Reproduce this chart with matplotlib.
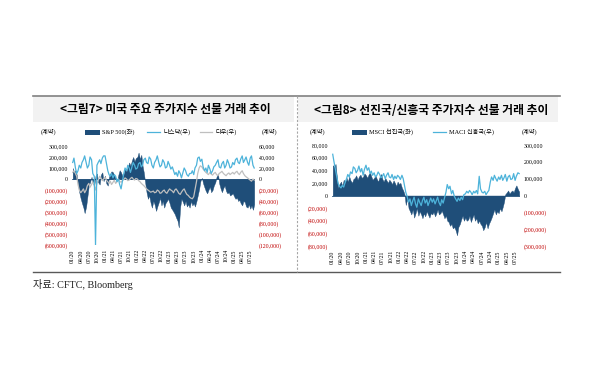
import matplotlib
matplotlib.use('Agg')
import matplotlib.pyplot as plt
from matplotlib.patches import Rectangle
from matplotlib.lines import Line2D
import pandas as pd
import numpy as np

# ---------------- data (thousands of contracts, semi-monthly) ----------------
dates = pd.date_range('2020-01-01', periods=136, freq='SMS')

sp500 = [100, 60, 80, 40, -50, -120, -180, -220, -260, -310, -250, -160, -60, -30, 20, -40, -60, 30, 50, -30, -50, 40, 60, -20,
         30, -40, -60, 20, 50, 70, 60, 30, 10, -20, 40, 80, 60, 30, 50, 90, 70, 110, 150, 120, 170, 200, 160, 190,
         200, 240, 180, 220, 120, 60, -40, -120, -180, -150, -220, -260, -200, -230, -290, -250, -210, -170, -240, -200, -260, -220, -200, -180,
         -220, -260, -280, -300, -320, -350, -380, -440, -250, -180, -210, -240, -200, -250, -230, -260, -200, -240, -220, -250, -200, -150, -90, -20,
         10, -40, -80, -110, -130, -100, -70, -120, -100, -60, -30, 20, 50, -40, -90, -120, -80, -60, -110, -130, -120, -150, -140, -130,
         -160, -180, -170, -200, -190, -220, -240, -200, -210, -250, -260, -230, -270, -240, -280, -230]

nasdaq = [30, 38, 20, 10, 15, 25, 20, 30, 35, 42, 30, 20, 25, 40, 35, 10, 5, -120, 25, 30, 35, 28, 38, 42,
          42, 30, 15, 8, 5, 10, 2, 8, 5, -5, 0, -10, -18, -5, 10, 20, 15, 25, 20, 12, 22, 30, 25, 18,
          20, 28, 30, 22, 25, 35, 38, 30, 28, 40, 36, 25, 20, 30, 35, 42, 30, 22, 25, 35, 30, 20, 22, 32,
          25, 18, 22, 15, 8, 12, 5, 15, 10, 2, 12, 20, 15, 8, 5, 10, 10, 15, 8, 20, 25, 38, 40, 32,
          36, 22, 15, 20, 12, 25, 18, 10, 15, 22, 25, 30, 35, 22, 20, 28, 32, 20, 25, 35, 28, 20, 22, 30,
          26, 35, 38, 30, 28, 36, 42, 30, 35, 40, 30, 25, 38, 42, 25, 20]

dow = [12, 15, 10, 5, -10, -20, -25, -22, -18, -25, -20, -12, -8, -15, -10, -5, -12, -20, -8, -2, 5, 2, -3, 0,
       3, -2, -5, -8, -4, -10, -6, -2, -8, -5, 0, -4, -6, -3, -1, 2, 0, -3, -2, 1, 3, 0, -2, 1,
       0, -3, -5, -8, -10, -12, -15, -18, -20, -22, -24, -23, -22, -25, -24, -20, -22, -26, -25, -22, -20, -24, -26, -22,
       -18, -20, -22, -25, -20, -18, -22, -26, -28, -24, -20, -18, -24, -28, -30, -33, -35, -36, -32, -20, -5, 10, 20, 24,
       22, 18, 15, 12, 10, 8, 12, 9, 7, 10, 12, 8, 6, 10, 12, 14, 10, 8, 6, 9, 11, 8, 10, 12,
       9, 12, 14, 10, 8, 12, 15, 10, 6, 4, 2, 0, -2, -4, 0, -2]

msci_dm = [48, 45, 50, 30, 12, 18, 22, 15, 25, 20, 28, 22, 30, 24, 20, 26, 28, 32, 25, 30, 33, 28, 30, 35,
           32, 28, 34, 36, 30, 25, 28, 32, 26, 22, 30, 34, 26, 22, 28, 24, 20, 25, 22, 18, 24, 20, 15, 22,
           18, 20, 12, 8, 2, -15, -5, -20, -25, -30, -22, -35, -28, -20, -32, -25, -30, -36, -28, -33, -25, -30, -35, -28,
           -30, -26, -33, -28, -22, -30, -28, -24, -30, -36, -32, -40, -42, -48, -45, -52, -50, -55, -63, -50, -45, -38, -32, -40,
           -35, -40, -38, -32, -42, -36, -30, -40, -36, -44, -40, -45, -48, -55, -50, -42, -52, -45, -40, -35, -28, -22, -30, -25,
           -28, -20, -25, -18, -10, 2, 5, 8, 3, 6, 8, 5, 12, 16, 10, 6]

msci_em = [245, 200, 150, 110, 70, 55, 45, 60, 50, 75, 100, 125, 110, 140, 130, 170, 160, 135, 150, 175, 140, 160, 120, 155,
           180, 150, 165, 130, 145, 120, 135, 110, 120, 140, 125, 105, 115, 130, 100, 120, 135, 110, 105, 125, 95, 115, 100, 120,
           110, 95, 120, 100, 60, 20, -10, -40, -20, -60, -30, -10, -50, -70, -20, -40, -60, -30, -10, -45, -25, -60, -35, -15,
           -40, -20, -50, -30, -10, -40, -60, -25, -45, -15, 20, 65, 40, 55, 10, 30, -5, -20, -35, -15, -30, -10, -25, 5,
           10, 25, 15, 30, 20, 5, 25, 15, 30, 10, 114, 40, 20, 15, 25, 5, 20, 30, 80, 110, 90, 120, 100, 85,
           110, 95, 120, 90, 105, 125, 85, 110, 120, 95, 100, 130, 90, 115, 135, 130]

tick_dates = pd.date_range('2020-01-01', '2025-07-01', freq='QS')
tick_labels = [d.strftime('%m/%y') for d in tick_dates]

title_left = '<그림7> 미국 주요 주가지수 선물 거래 추이'
title_right = '<그림8> 선진국/신흥국 주가지수 선물 거래 추이'
source = '자료: CFTC, Bloomberg'

# ---------------- style ----------------
DARK = '#1F4E79'
LIGHT = '#4DB3DA'
GRAY = '#BFBFBF'
RED = '#C00000'
SERIF = ['Liberation Serif', 'Noto Sans CJK KR']
SANS = ['Noto Sans CJK KR', 'DejaVu Sans']
TFS = 4.2

W, H = 600, 383
fig = plt.figure(figsize=(6, 3.83), dpi=100)
fig.patch.set_facecolor('white')

def fx(x): return x / W
def fy(y): return 1 - y / H

def axes_px(x0, y0, x1, y1):
    return fig.add_axes([fx(x0), fy(y1), (x1 - x0) / W, (y1 - y0) / H])

def fmt(v):
    v = int(round(v))
    return f'({-v:,})' if v < 0 else f'{v:,}'

def style_axis(ax, ticks, side):
    ax.set_yticks(ticks)
    labs = ax.set_yticklabels([fmt(t) for t in ticks], fontsize=TFS, family=SERIF)
    for t, l in zip(ticks, labs):
        l.set_color(RED if t < 0 else 'black')
    for s in ax.spines.values():
        s.set_visible(False)
    ax.tick_params(axis='both', length=0)
    ax.tick_params(axis='y', pad=3 if side == 'left' else 2.5)

def make_chart(x0, x1, y0, y1, bars, lines, lticks, rticks):
    ax = axes_px(x0, y0, x1, y1)
    ax.set_facecolor('none')
    vals = np.array(bars) * 1000
    ax.fill_between(dates, 0, vals, color=DARK, linewidth=0.3, edgecolor=DARK, interpolate=True)
    ax.axhline(0, color=DARK, lw=0.6)
    ax.set_ylim(lticks[0], lticks[-1])
    ax.set_xlim(pd.Timestamp('2019-12-24'), pd.Timestamp('2025-08-24'))
    style_axis(ax, lticks, 'left')
    ax.set_xticks(tick_dates)
    ax.set_xticklabels(tick_labels, rotation=90, fontsize=TFS, family=SERIF)
    ax.tick_params(axis='x', pad=3)
    ax2 = ax.twinx()
    for v, col in lines:
        ax2.plot(dates, np.array(v) * 1000, color=col, lw=0.9)
    ax2.set_ylim(rticks[0], rticks[-1])
    style_axis(ax2, rticks, 'right')
    ax2.set_xlim(ax.get_xlim())
    return ax, ax2

# left chart
make_chart(72, 255, 146, 245, sp500, [(dow, GRAY), (nasdaq, LIGHT)],
           list(range(-600000, 300001, 100000)), list(range(-120000, 60001, 20000)))
# right chart
make_chart(332, 520, 145, 246, msci_dm, [(msci_em, LIGHT)],
           list(range(-80000, 80001, 20000)), list(range(-300000, 300001, 100000)))

# ---------------- frame / titles ----------------
fig.patches.append(Rectangle((fx(33), fy(122)), (294 - 33) / W, 26 / H, transform=fig.transFigure,
                             facecolor='#F2F2F2', edgecolor='none', zorder=0))
fig.patches.append(Rectangle((fx(298), fy(122)), (558 - 298) / W, 26 / H, transform=fig.transFigure,
                             facecolor='#F2F2F2', edgecolor='none', zorder=0))
fig.lines.append(Line2D([fx(33), fx(560)], [fy(95.5), fy(95.5)], transform=fig.transFigure,
                        color='#808080', lw=1.2))
fig.lines.append(Line2D([fx(33), fx(560)], [fy(272), fy(272)], transform=fig.transFigure,
                        color='#595959', lw=1.0))
fig.lines.append(Line2D([fx(296.5), fx(296.5)], [fy(96), fy(272)], transform=fig.transFigure,
                        color='#A6A6A6', lw=0.8, linestyle=(0, (2, 1.5))))

fig.text(fx(165), fy(110), title_left, fontsize=8.5, family=SANS, ha='center', va='center',
         color='#000000', weight='bold')
fig.text(fx(431), fy(110), title_right, fontsize=8.5, family=SANS, ha='center', va='center',
         color='#000000', weight='bold')
fig.text(fx(33), fy(284), source, fontsize=7.3, family=SERIF, ha='left', va='center', color='#222222')

# ---------------- legends / unit labels ----------------
LFS = 4.5
def unit(x, y):
    fig.text(fx(x), fy(y), '(계약)', fontsize=LFS, family=SERIF, ha='center', va='center')

def patch_item(x0, x1, y, label):
    fig.patches.append(Rectangle((fx(x0), fy(y + 2.5)), (x1 - x0) / W, 5 / H, transform=fig.transFigure,
                                 facecolor=DARK, edgecolor='none'))
    fig.text(fx(x1 + 2), fy(y), label, fontsize=LFS, family=SERIF, ha='left', va='center')

def line_item(x0, x1, y, col, label):
    fig.lines.append(Line2D([fx(x0), fx(x1)], [fy(y), fy(y)], transform=fig.transFigure, color=col, lw=0.9))
    fig.text(fx(x1 + 3), fy(y), label, fontsize=LFS, family=SERIF, ha='left', va='center')

unit(49, 131.5)
unit(270, 131.5)
patch_item(85, 100, 132, 'S&P 500(좌)')
line_item(147, 160, 132, LIGHT, '나스닥(우)')
line_item(200, 212, 132, GRAY, '다우(우)')

unit(318, 131.5)
unit(530, 131.5)
patch_item(352, 367, 132, 'MSCI 선진국(좌)')
line_item(433, 446, 132, LIGHT, 'MACI 신흥국(우)')

fig.savefig('out.png', dpi=100, facecolor='white')
